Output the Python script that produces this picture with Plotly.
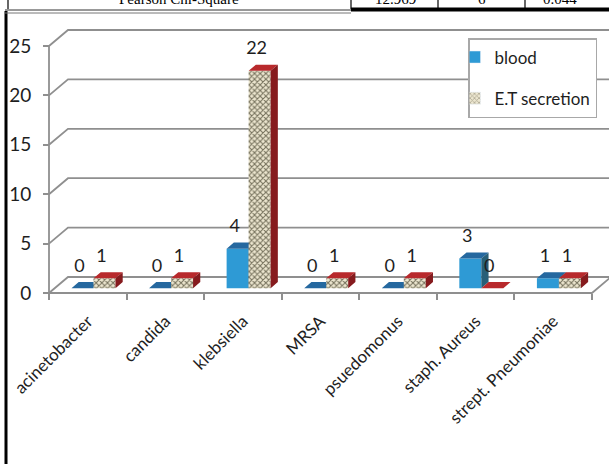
import plotly.graph_objects as go

# ---- data -------------------------------------------------------------
categories = ["acinetobacter", "candida", "klebsiella", "MRSA",
              "psuedomonus", "staph. Aureus", "strept. Pneumoniae"]
blood = [0, 0, 4, 0, 0, 3, 1]
et_secretion = [1, 1, 22, 1, 1, 0, 1]
series_names = ["blood", "E.T secretion"]
y_ticks = [0, 5, 10, 15, 20, 25]
table_cells = ["Pearson Chi-Square", "12.969", "6", "0.044"]

# ---- geometry of the pseudo-3D box (pixels) ----------------------------
W, H = 609, 464
X0_PX, CAT_PX = 49, 77.57      # front-left corner, width of one category
Y0_PX, UNIT_PX = 293, 9.88     # front floor line, pixels per count
DEPTH_X_PX, DEPTH_Y_PX = 19, 16

DX = DEPTH_X_PX / CAT_PX       # wall depth in axis units
DY = DEPTH_Y_PX / UNIT_PX
BAR_W = 22 / CAT_PX            # bar width in category units
F0, BD = 0.30, 0.38            # bar front position / bar depth (fraction of floor depth)
fx, fy = F0 * DX, F0 * DY
ddx, ddy = BD * DX, BD * DY

x_range = [-X0_PX / CAT_PX, (W - X0_PX) / CAT_PX]
y_range = [(Y0_PX - H) / UNIT_PX, Y0_PX / UNIT_PX]
n = len(categories)

GRID = "#8f8f8f"
BLUE_FRONT, BLUE_TOP, BLUE_SIDE = "#2E9AD5", "#25689F", "#275F78"
RED_TOP, RED_SIDE = "#B8292C", "#861B1E"
PAT_BG, PAT_FG = "#ECE6CF", "#74705B"
FONT = "Lato"

fig = go.Figure()

# ---- walls, floor and grid --------------------------------------------
gx, gy = [], []
ymax = max(y_ticks)
for v in y_ticks:
    gx += [0, DX, n + DX, None]
    gy += [v, v + DY, v + DY, None]
gx += [0, 0, None, 0, n, n + DX, None]
gy += [0, ymax, None, 0, 0, DY, None]
fig.add_trace(go.Scatter(x=gx, y=gy, mode="lines", hoverinfo="skip",
                         line=dict(color=GRID, width=1.8), showlegend=False))


def faces(values, left):
    """Polygons (front, top, side) of one series' columns."""
    front, top, side = ([], []), ([], []), ([], [])
    for i, v in enumerate(values):
        c = i + 0.5
        x0 = c - BAR_W + fx if left else c + fx
        x1 = x0 + BAR_W
        y0, y1 = fy, fy + v
        front[0].extend([x0, x1, x1, x0, x0, None])
        front[1].extend([y0, y0, y1, y1, y0, None])
        top[0].extend([x0, x1, x1 + ddx, x0 + ddx, x0, None])
        top[1].extend([y1, y1, y1 + ddy, y1 + ddy, y1, None])
        side[0].extend([x1, x1 + ddx, x1 + ddx, x1, x1, None])
        side[1].extend([y0, y0 + ddy, y1 + ddy, y1, y0, None])
    return front, top, side


def poly(xy, color, pattern=None):
    kw = dict(x=xy[0], y=xy[1], mode="lines", fill="toself",
              line=dict(width=0, color=color), hoverinfo="skip",
              showlegend=False)
    if pattern:
        kw["fillpattern"] = pattern
        kw["fillcolor"] = PAT_BG
    else:
        kw["fillcolor"] = color
    return go.Scatter(**kw)


pattern = dict(shape="x", fgcolor=PAT_FG, bgcolor=PAT_BG, size=4,
               solidity=0.45, fillmode="replace")

bf, bt, bs = faces(blood, True)
ef, et, es = faces(et_secretion, False)
for xy, col in ((bf, BLUE_FRONT), (bt, BLUE_TOP), (bs, BLUE_SIDE)):
    fig.add_trace(poly(xy, col))
fig.add_trace(poly(ef, PAT_BG, pattern))
fig.add_trace(poly(et, RED_TOP))
fig.add_trace(poly(es, RED_SIDE))

# ---- value labels -----------------------------------------------------
lift = 15 / UNIT_PX
shift = 3 / CAT_PX
for values, left in ((blood, True), (et_secretion, False)):
    lx = [i + 0.5 + fx + (-BAR_W / 2 if left else BAR_W / 2) - shift
          for i in range(n)]
    ly = [fy + v + ddy + lift for v in values]
    fig.add_trace(go.Scatter(x=lx, y=ly, mode="text",
                             text=[str(v) for v in values],
                             textfont=dict(family=FONT, size=18, color="#1e1e1e"),
                             hoverinfo="skip", showlegend=False))

# ---- legend entries ---------------------------------------------------
fig.add_trace(go.Bar(x=[None], y=[None], name=series_names[0],
                     marker=dict(color=BLUE_FRONT), legendgroup="a"))
fig.add_trace(go.Bar(x=[None], y=[None], name=series_names[1],
                     marker=dict(color=PAT_BG, pattern=dict(
                         shape="x", fgcolor=PAT_FG, bgcolor=PAT_BG,
                         size=4, solidity=0.45)),
                     legendgroup="b"))

# ---- page frame and the clipped table row above the chart ------------
def px(xp):
    return xp / W


def py(yp):
    return 1 - yp / H


shapes = [
    dict(type="line", xref="paper", yref="paper", x0=px(6), x1=px(6),
         y0=py(11), y1=py(H + 2), line=dict(color="black", width=3)),
    dict(type="line", xref="paper", yref="paper", x0=px(5), x1=px(351),
         y0=py(10), y1=py(10), line=dict(color="#333", width=1)),
    dict(type="line", xref="paper", yref="paper", x0=px(5), x1=px(351),
         y0=py(13), y1=py(13), line=dict(color="#777", width=1)),
    dict(type="line", xref="paper", yref="paper", x0=px(351), x1=px(W + 2),
         y0=py(9.5), y1=py(9.5), line=dict(color="black", width=4)),
]
for xv in (8, 351, 438, 525):
    shapes.append(dict(type="line", xref="paper", yref="paper",
                       x0=px(xv), x1=px(xv), y0=py(-2), y1=py(9),
                       line=dict(color="black", width=1.2)))

annotations = []
for cell, cx in zip(table_cells, (179, 395, 482, 560)):
    annotations.append(dict(text=cell, x=px(cx), y=py(-1), xref="paper",
                            yref="paper", showarrow=False, xanchor="center",
                            yanchor="middle",
                            font=dict(family="Liberation Serif", size=15,
                                      color="black")))

fig.update_layout(
    width=W, height=H, margin=dict(l=0, r=0, t=0, b=0),
    paper_bgcolor="white", plot_bgcolor="white",
    barmode="overlay",
    shapes=shapes, annotations=annotations,
    xaxis=dict(range=x_range, domain=[0, 1], anchor="free",
               position=(H - Y0_PX) / H,
               tickvals=[i + 0.5 for i in range(n)], ticktext=categories,
               tickangle=-45, ticks="", showgrid=False, zeroline=False,
               showline=False, ticklabelstandoff=14,
               tickfont=dict(family=FONT, size=17, color="#1e1e1e"),
               minor=dict(tickvals=list(range(n + 1)), ticks="outside",
                          ticklen=6, tickwidth=1.5, tickcolor=GRID,
                          showgrid=False)),
    yaxis=dict(range=y_range, domain=[0, 1], anchor="free",
               position=X0_PX / W, tickvals=y_ticks,
               ticks="outside", ticklen=6, tickwidth=1.5, tickcolor=GRID,
               showgrid=False, zeroline=False, showline=False,
               ticklabelstandoff=8,
               tickfont=dict(family=FONT, size=19, color="#1e1e1e")),
    legend=dict(x=px(468), y=py(38), xanchor="left", yanchor="top",
                bgcolor="white", bordercolor="#a8a8a8", borderwidth=1.5,
                font=dict(family=FONT, size=17, color="#1e1e1e"),
                tracegroupgap=16, indentation=-15, itemwidth=30),
    showlegend=True,
)

fig.write_html("out.html")
